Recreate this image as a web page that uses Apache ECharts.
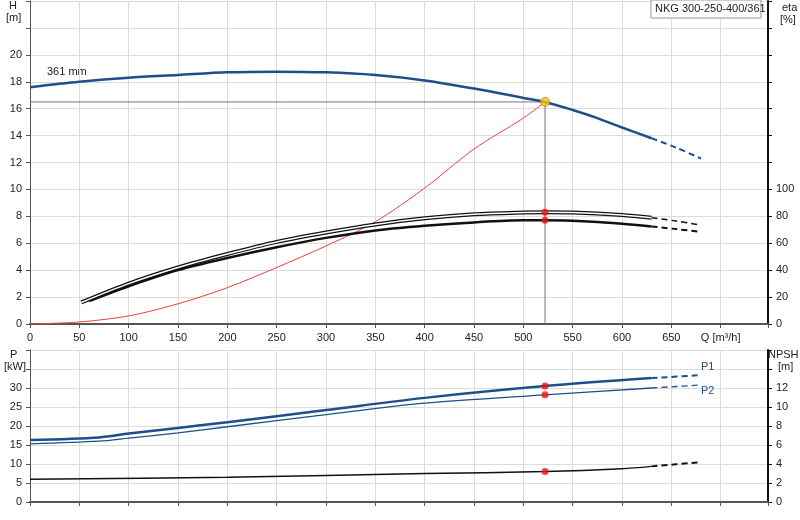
<!DOCTYPE html>
<html><head><meta charset="utf-8">
<script src="https://cdn.jsdelivr.net/npm/echarts@6/dist/echarts.min.js"></script>
<style>html,body{margin:0;padding:0;background:#fff}#c{width:800px;height:520px}</style>
</head><body><div id="c"></div>
<script>
const headQ = [0,50,100,150,200,250,300,350,400,450,500,522,550,575,600,630];
const headH = [17.6,18.0,18.3,18.5,18.7,18.75,18.7,18.5,18.1,17.5,16.8,16.5,15.9,15.3,14.6,13.8];
const headDashQ = [630,655,680];
const headDashH = [13.8,13.1,12.3];
const sysQ = [0,50,100,150,200,250,300,350,400,450,500,522];
const sysH = [0,0.15,0.6,1.5,2.7,4.2,5.8,7.6,10.1,13.0,15.3,16.5];
const eta1Q = [52,100,150,200,250,300,350,400,450,500,522,550,600,630];
const eta1V = [16,30,42,52,61,68,74,78.5,81.5,82.8,83,82.8,81,79];
const eta1DQ = [630,655,680];
const eta1DV = [79,76.5,73.5];
const eta2Q = [60,100,150,200,250,300,350,400,450,500,522,570,600,630];
const eta2V = [17,28,40,49,57,64,69.5,73,75.5,77,77,76,74.5,72.5];
const eta2DQ = [630,655,680];
const eta2DV = [72.5,70.5,68.5];
const p1Q = [0,70,100,150,200,300,400,522,630];
const p1V = [16.3,17,18,19.5,21,24.2,27.4,30.5,32.6];
const p1DQ = [630,680];
const p1DV = [32.6,33.4];
const p2Q = [0,70,100,150,200,300,400,522,630];
const p2V = [15.3,16,16.8,18.2,19.8,23,26,28.2,30];
const p2DQ = [630,680];
const p2DV = [30,30.8];
const npshQ = [0,200,400,522,600,630];
const npshV = [2.4,2.6,3.0,3.2,3.5,3.75];
const npshDQ = [630,680];
const npshDV = [3.75,4.2];
const dutyQ = 522, dutyH = 16.5, dutyEta = [83,77], dutyP = [30.5,28.2], dutyNpsh = 3.2;
const qTicks = [0,50,100,150,200,250,300,350,400,450,500,550,600,650];

const z = (qs, vs) => qs.map((q,i)=>[q,vs[i]]);
const F = 'Liberation Sans, Arial, sans-serif';
const gl = {show:true,lineStyle:{color:'#dcdcdc'}};
const blue='#1f4e8c';
function line(name,x,y,data,color,width,dashed,extra){
  return Object.assign({type:'line',name,xAxisIndex:x,yAxisIndex:y,data,showSymbol:false,symbol:'none',smooth:0.3,
    lineStyle:{color,width,type:dashed?[6,4]:'solid'},z:3,animation:false},extra||{});
}
const axX = (i,gi,labels)=>({type:'value',gridIndex:gi,min:0,max:748,interval:50,
  axisLine:{lineStyle:{color:'#555',width:2}},axisTick:{show:true,length:4,lineStyle:{color:'#555'}},
  splitLine:gl,axisLabel:{show:labels,color:'#222',fontFamily:F,fontSize:11,
    formatter:v=>v===700?'Q [m³/h]':(qTicks.includes(v)?String(v):'')}});
const opt = {
  animation:false,
  grid:[{left:30,right:32,top:1,height:323},{left:30,right:32,top:350,height:152}],
  xAxis:[axX(0,0,true),axX(1,1,false)],
  yAxis:[
    {type:'value',gridIndex:0,min:0,max:24,interval:2,axisLine:{show:true,lineStyle:{color:'#555'}},axisTick:{show:true,length:4},splitLine:gl,
     axisLabel:{color:'#222',fontFamily:F,fontSize:11,formatter:v=>v<=20?String(v):''}},
    {type:'value',gridIndex:0,min:0,max:240,interval:20,position:'right',axisLine:{show:true,lineStyle:{color:'#111',width:2}},axisTick:{show:true,length:4},splitLine:{show:false},
     axisLabel:{color:'#222',fontFamily:F,fontSize:11,formatter:v=>v<=100?String(v):''}},
    {type:'value',gridIndex:1,min:0,max:40,interval:5,axisLine:{show:true,lineStyle:{color:'#555'}},axisTick:{show:true,length:4},splitLine:gl,
     axisLabel:{color:'#222',fontFamily:F,fontSize:11,formatter:v=>v<=30?String(v):''}},
    {type:'value',gridIndex:1,min:0,max:16,interval:2,position:'right',axisLine:{show:true,lineStyle:{color:'#111',width:2}},axisTick:{show:true,length:4},splitLine:{show:false},
     axisLabel:{color:'#222',fontFamily:F,fontSize:11,formatter:v=>v<=12?String(v):''}}
  ],
  series:[
    line('duty',0,0,[[0,dutyH],[dutyQ,dutyH],[dutyQ,0]],'#777',1,false,{smooth:false,z:2}),
    line('sys',0,0,z(sysQ,sysH),'#f04040',1,false),
    line('H',0,0,z(headQ,headH),blue,2.5,false),
    line('Hd',0,0,z(headDashQ,headDashH),blue,2,true),
    line('e1o',0,1,z(eta1Q,eta1V),'#111',4,false),
    line('e1i',0,1,z(eta1Q,eta1V),'#fff',1.5,false,{z:4}),
    line('e1d',0,1,z(eta1DQ,eta1DV),'#111',1.5,true),
    line('e2',0,1,z(eta2Q,eta2V),'#111',2.5,false),
    line('e2d',0,1,z(eta2DQ,eta2DV),'#111',2,true),
    line('P1',1,2,z(p1Q,p1V),blue,2.5,false),
    line('P1d',1,2,z(p1DQ,p1DV),blue,2,true,{endLabel:{show:true,formatter:'P1',color:blue,fontFamily:F,fontSize:11,offset:[-8,-8]}}),
    line('P2',1,2,z(p2Q,p2V),blue,1.3,false),
    line('P2d',1,2,z(p2DQ,p2DV),blue,1.3,true,{endLabel:{show:true,formatter:'P2',color:blue,fontFamily:F,fontSize:11,offset:[-8,6]}}),
    line('N',1,3,z(npshQ,npshV),'#111',1.5,false),
    line('Nd',1,3,z(npshDQ,npshDV),'#111',2,true),
    {type:'scatter',xAxisIndex:0,yAxisIndex:0,data:[[dutyQ,dutyH]],symbolSize:9,itemStyle:{color:'#f5c518',borderColor:'#e07000',borderWidth:1},z:10},
    {type:'scatter',xAxisIndex:0,yAxisIndex:1,data:dutyEta.map(v=>[dutyQ,v]),symbolSize:7,itemStyle:{color:'#ee1111'},z:10},
    {type:'scatter',xAxisIndex:1,yAxisIndex:2,data:dutyP.map(v=>[dutyQ,v]),symbolSize:7,itemStyle:{color:'#ee1111'},z:10},
    {type:'scatter',xAxisIndex:1,yAxisIndex:3,data:[[dutyQ,dutyNpsh]],symbolSize:7,itemStyle:{color:'#ee1111'},z:10}
  ],
  graphic:[
    {type:'text',left:9,top:0,style:{text:'H',font:'11px '+F,fill:'#222'}},
    {type:'text',left:6,top:12,style:{text:'[m]',font:'11px '+F,fill:'#222'}},
    {type:'text',left:782,top:2,style:{text:'eta',font:'11px '+F,fill:'#222'}},
    {type:'text',left:780,top:14,style:{text:'[%]',font:'11px '+F,fill:'#222'}},
    {type:'text',left:47,top:66,style:{text:'361 mm',font:'11px '+F,fill:'#222'}},
    {type:'rect',shape:{x:651,y:0,width:110,height:18},style:{fill:'#fff',stroke:'#999'},z:20},
    {type:'text',left:655,top:3,z:21,style:{text:'NKG 300-250-400/361',font:'11px '+F,fill:'#222'}},
    {type:'text',left:10,top:349,style:{text:'P',font:'11px '+F,fill:'#222'}},
    {type:'text',left:4,top:361,style:{text:'[kW]',font:'11px '+F,fill:'#222'}},
    {type:'text',left:768,top:349,style:{text:'NPSH',font:'11px '+F,fill:'#222'}},
    {type:'text',left:778,top:361,style:{text:'[m]',font:'11px '+F,fill:'#222'}}
  ]
};
echarts.init(document.getElementById('c'),null,{renderer:'canvas'}).setOption(opt);
</script></body></html>
